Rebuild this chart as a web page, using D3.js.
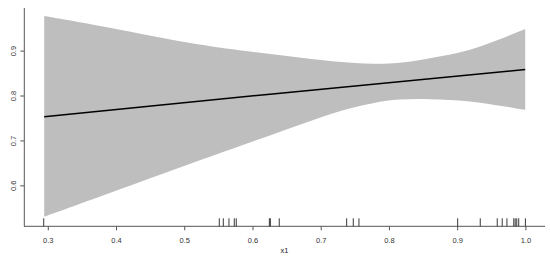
<!DOCTYPE html>
<html>
<head>
<meta charset="utf-8">
<script src="https://cdn.jsdelivr.net/npm/d3@7"></script>
<style>
html,body{margin:0;padding:0;background:#fff;}
svg{display:block;font-family:"Liberation Sans",Arial,Helvetica,sans-serif;}
</style>
</head>
<body>
<svg id="chart" width="550" height="266"></svg>
<script>
// Data
const bandX     = [0.294, 0.376, 0.497, 0.580, 0.650, 0.720, 0.776, 0.815, 0.859, 0.918, 0.999];
const bandUpper = [0.978, 0.956, 0.921, 0.902, 0.889, 0.877, 0.872, 0.874, 0.884, 0.903, 0.949];
const bandLower = [0.531, 0.576, 0.643, 0.688, 0.726, 0.763, 0.784, 0.792, 0.793, 0.788, 0.769];
const fitX = [0.294, 0.625, 0.999];
const fitY = [0.754, 0.804, 0.859];
const rugX = [0.2933, 0.5506, 0.5565, 0.5648, 0.5726, 0.5755, 0.624, 0.6255, 0.6385,
              0.7373, 0.7470, 0.7553, 0.9, 0.9331, 0.958, 0.9653, 0.9722, 0.9822,
              0.9843, 0.9866, 0.9895, 0.9993];
const xTicks = [0.3, 0.4, 0.5, 0.6, 0.7, 0.8, 0.9, 1.0];
const yTicks = [0.6, 0.7, 0.8, 0.9];
const xLabel = "x1";

const svg = d3.select("#chart");
const x = d3.scaleLinear().domain([0.2644, 1.028]).range([24, 545]);
const y = d3.scaleLinear().domain([0.509, 0.996]).range([226.7, 8]);

const band = bandX.map((v, i) => ({x: v, lo: bandLower[i], hi: bandUpper[i]}));
svg.append("path")
  .datum(band)
  .attr("fill", "#bebebe")
  .attr("d", d3.area().curve(d3.curveCatmullRom.alpha(0.5))
    .x(d => x(d.x)).y0(d => y(d.lo)).y1(d => y(d.hi)));

svg.append("path")
  .datum(fitX.map((v, i) => ({x: v, y: fitY[i]})))
  .attr("fill", "none")
  .attr("stroke", "#000")
  .attr("stroke-width", 1.5)
  .attr("d", d3.line().x(d => x(d.x)).y(d => y(d.y)));

const axisColor = "#555";
const x0 = 24.3, yBase = 226.3;

// x axis
const gx = svg.append("g").attr("transform", `translate(0,${yBase})`);
gx.append("line").attr("x1", 24).attr("x2", 545).attr("y1", 0).attr("y2", 0)
  .attr("stroke", axisColor).attr("stroke-width", 1);
gx.selectAll(".xt").data(xTicks).enter().append("line")
  .attr("x1", d => x(d)).attr("x2", d => x(d)).attr("y1", 0).attr("y2", 4)
  .attr("stroke", axisColor);
gx.selectAll(".xl").data(xTicks).enter().append("text")
  .attr("x", d => x(d)).attr("y", 16.5)
  .attr("text-anchor", "middle").attr("font-size", "7.5px").attr("fill", "#333")
  .text(d => d.toFixed(1));

// rug
svg.selectAll(".rug").data(rugX).enter().append("line")
  .attr("x1", d => x(d)).attr("x2", d => x(d))
  .attr("y1", yBase - 8).attr("y2", yBase)
  .attr("stroke", "#222").attr("stroke-width", 0.9);

// y axis
svg.append("line").attr("x1", x0).attr("x2", x0).attr("y1", 8).attr("y2", yBase)
  .attr("stroke", axisColor);
svg.selectAll(".yt").data(yTicks).enter().append("line")
  .attr("x1", x0 - 4).attr("x2", x0).attr("y1", d => y(d)).attr("y2", d => y(d))
  .attr("stroke", axisColor);
svg.selectAll(".yl").data(yTicks).enter().append("text")
  .attr("transform", d => `translate(15.5,${y(d)}) rotate(-90)`)
  .attr("text-anchor", "middle").attr("font-size", "7.5px").attr("fill", "#333")
  .text(d => d.toFixed(1));

svg.append("text").attr("x", 284.5).attr("y", 252.5)
  .attr("text-anchor", "middle").attr("font-size", "7.5px").attr("fill", "#222")
  .text(xLabel);
</script>
</body>
</html>
